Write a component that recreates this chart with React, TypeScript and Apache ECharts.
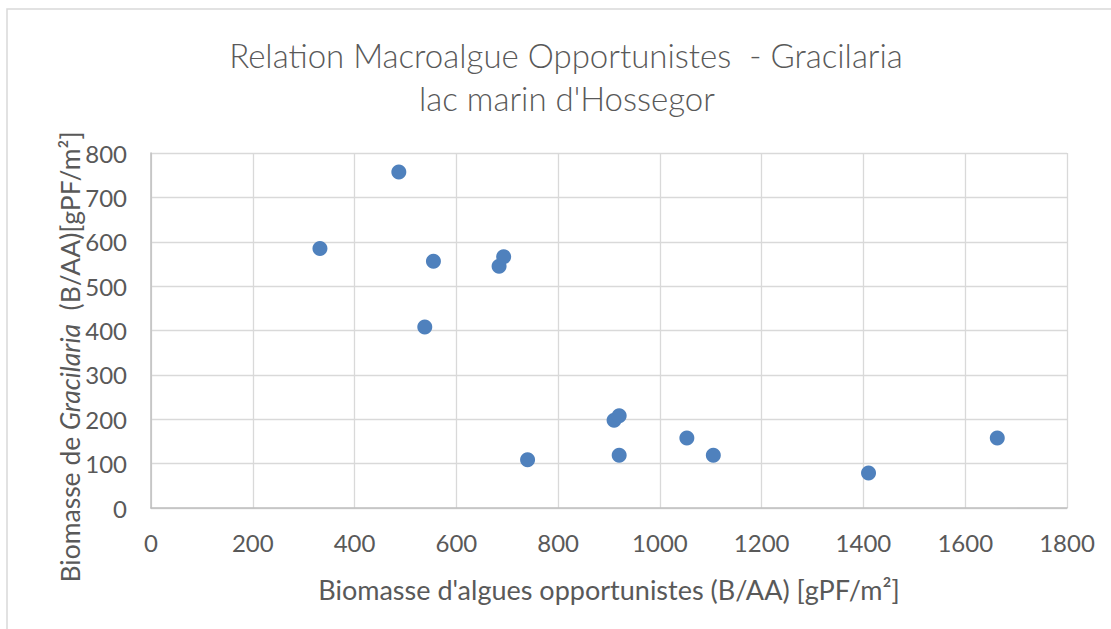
import React, { useEffect, useRef } from "react";
import * as echarts from "echarts";

const titleLines = ["Relation Macroalgue Opportunistes  - Gracilaria", "lac marin d'Hossegor"];
const xAxisTitle = "Biomasse d'algues opportunistes (B/AA) [gPF/m²]";
const yAxisTitleParts = ["Biomasse de ", "Gracilaria", "  (B/AA)[gPF/m²]"];

// Biomasse d'algues opportunistes (x) and Biomasse de Gracilaria (y)
const opportunistes = [332, 487, 538, 555, 684, 693, 740, 910, 920, 920, 1053, 1105, 1410, 1663];
const gracilaria = [585, 757, 408, 556, 545, 566, 109, 198, 208, 119, 158, 119, 79, 158];

const xMin = 0, xMax = 1800, xStep = 200;
const yMin = 0, yMax = 800, yStep = 100;

const FONT = "Lato";
const TEXT = "#595959";

export default function App() {
  const ref = useRef<HTMLDivElement>(null);
  useEffect(() => {
    if (!ref.current) return;
    const chart = echarts.init(ref.current, null, { renderer: "svg" });
    const data = opportunistes.map((x, i) => [x, gracilaria[i]]);
    chart.setOption({
      animation: false,
      backgroundColor: "#ffffff",
      textStyle: { fontFamily: FONT },
      grid: { left: 151, right: 44, top: 153, bottom: 121, containLabel: false },
      graphic: [
        {
          type: "rect",
          shape: { x: 7, y: 9, width: 1300, height: 800 },
          style: { fill: "none", stroke: "#D9D9D9", lineWidth: 1.5 },
          silent: true,
        },
        {
          type: "text",
          x: 566,
          y: 55,
          style: {
            text: titleLines[0],
            fill: TEXT,
            font: `300 33px ${FONT}`,
            align: "center",
            verticalAlign: "middle",
          },
        },
        {
          type: "text",
          x: 567,
          y: 98,
          style: {
            text: titleLines[1],
            fill: TEXT,
            font: `300 33px ${FONT}`,
            align: "center",
            verticalAlign: "middle",
          },
        },
        {
          type: "text",
          x: 70,
          y: 357,
          rotation: Math.PI / 2,
          style: {
            text: `${yAxisTitleParts[0]}{i|${yAxisTitleParts[1]}}${yAxisTitleParts[2]}`,
            fill: TEXT,
            fontFamily: FONT,
            fontSize: 26.5,
            align: "center",
            verticalAlign: "middle",
            rich: {
              i: { fontStyle: "italic", fontFamily: FONT, fontSize: 26.5, fill: TEXT },
            },
          },
        },
      ],
      xAxis: {
        type: "value",
        min: xMin,
        max: xMax,
        interval: xStep,
        name: xAxisTitle,
        nameLocation: "middle",
        nameGap: 81,
        nameTextStyle: { color: TEXT, fontSize: 27, fontFamily: FONT, verticalAlign: "middle" },
        axisLine: { show: true, lineStyle: { color: "#BFBFBF", width: 1.5 } },
        axisTick: { show: false },
        axisLabel: {
          color: TEXT,
          fontSize: 24,
          fontFamily: FONT,
          margin: 22,
          formatter: (v: number) => String(v),
        },
        splitLine: { show: true, lineStyle: { color: "#D9D9D9", width: 1.3 } },
      },
      yAxis: {
        type: "value",
        min: yMin,
        max: yMax,
        interval: yStep,
        axisLine: { show: true, lineStyle: { color: "#BFBFBF", width: 1.5 } },
        axisTick: { show: false },
        axisLabel: {
          color: TEXT,
          fontSize: 24,
          fontFamily: FONT,
          margin: 24,
          formatter: (v: number) => String(v),
        },
        splitLine: { show: true, lineStyle: { color: "#D9D9D9", width: 1.3 } },
      },
      series: [
        {
          type: "scatter",
          data,
          symbol: "circle",
          symbolSize: 15,
          itemStyle: { color: "#4F81BD", opacity: 1 },
        },
      ],
    });
    return () => chart.dispose();
  }, []);
  return (
    <div
      ref={ref}
      style={{ position: "fixed", left: 0, top: 0, width: 1111, height: 629, background: "#fff" }}
    />
  );
}
